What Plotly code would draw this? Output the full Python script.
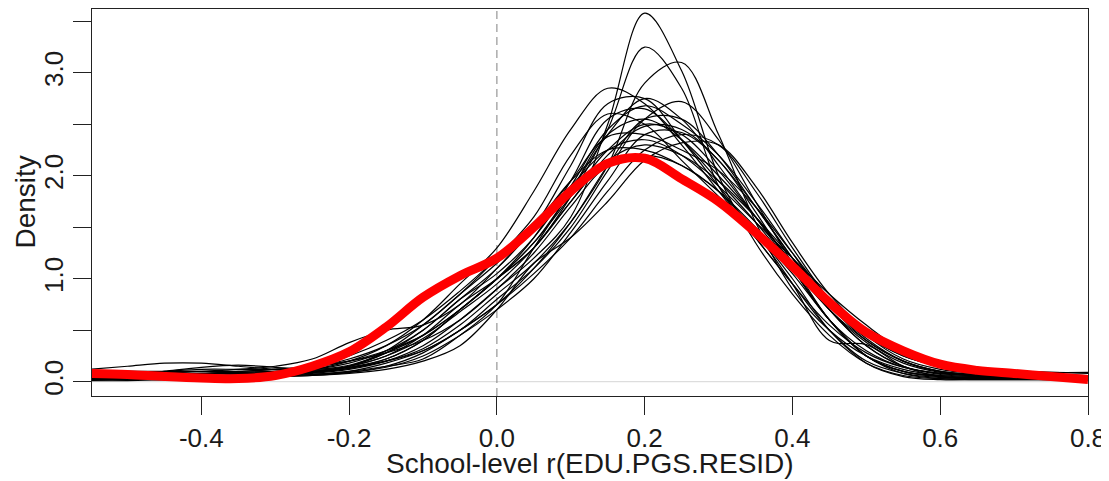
import plotly.graph_objects as go

# Shared x grid (school-level correlation values)
x_grid = [-0.55, -0.5, -0.45, -0.4, -0.35, -0.3, -0.25, -0.2, -0.15, -0.1, -0.05, 0.0,
          0.05, 0.1, 0.15, 0.2, 0.25, 0.3, 0.35, 0.4, 0.45, 0.5, 0.55, 0.6, 0.65, 0.7, 0.75, 0.8]

# Individual density curves (black)
d01 = [0.02,0.02,0.03,0.04,0.05,0.06,0.08,0.12,0.2,0.35,0.6,0.9,1.2,1.6,2.5,3.58,3.02,2.0,1.35,0.85,0.45,0.18,0.06,0.03,0.03,0.03,0.03,0.03]
d02 = [0.03,0.03,0.04,0.05,0.06,0.08,0.1,0.15,0.25,0.45,0.75,1.0,1.3,1.8,2.45,3.25,2.85,1.9,1.4,0.95,0.5,0.2,0.08,0.04,0.03,0.03,0.03,0.02]
d03 = [0.02,0.02,0.02,0.03,0.04,0.05,0.06,0.09,0.15,0.28,0.5,0.75,1.1,1.55,2.1,2.9,3.1,2.4,1.55,0.9,0.5,0.25,0.12,0.06,0.04,0.03,0.02,0.02]
d04 = [0.1,0.1,0.09,0.08,0.08,0.09,0.12,0.2,0.35,0.6,0.95,1.3,1.85,2.45,2.85,2.7,2.3,1.85,1.4,0.95,0.55,0.28,0.14,0.08,0.06,0.05,0.05,0.04]
d05 = [0.05,0.05,0.06,0.06,0.07,0.08,0.1,0.15,0.28,0.5,0.8,1.1,1.5,2.1,2.7,2.75,2.35,1.9,1.45,1.05,0.6,0.25,0.08,0.03,0.02,0.02,0.02,0.02]
d06 = [0.04,0.05,0.05,0.06,0.06,0.07,0.09,0.14,0.22,0.4,0.7,1.0,1.35,1.85,2.4,2.75,2.55,2.1,1.6,1.1,0.6,0.25,0.1,0.06,0.05,0.05,0.05,0.05]
d07 = [0.06,0.06,0.07,0.08,0.09,0.1,0.12,0.18,0.3,0.5,0.8,1.05,1.4,1.9,2.45,2.68,2.5,2.2,1.75,1.25,0.75,0.4,0.2,0.1,0.07,0.06,0.06,0.05]
d08 = [0.03,0.04,0.05,0.07,0.09,0.1,0.11,0.14,0.2,0.32,0.55,0.85,1.15,1.55,2.1,2.55,2.55,2.2,1.7,1.2,0.75,0.42,0.2,0.1,0.06,0.05,0.05,0.05]
d09 = [0.08,0.08,0.1,0.12,0.12,0.12,0.14,0.2,0.3,0.45,0.7,1.0,1.3,1.75,2.2,2.48,2.45,2.15,1.7,1.2,0.7,0.35,0.15,0.08,0.06,0.05,0.04,0.04]
d10 = [0.02,0.03,0.04,0.05,0.07,0.1,0.14,0.22,0.35,0.55,0.85,1.15,1.5,1.95,2.38,2.4,2.25,2.05,1.7,1.25,0.8,0.45,0.25,0.15,0.1,0.08,0.07,0.06]
d11 = [0.05,0.05,0.05,0.06,0.06,0.07,0.09,0.13,0.2,0.3,0.5,0.75,1.05,1.4,1.85,2.25,2.4,2.3,1.85,1.3,0.8,0.45,0.25,0.15,0.1,0.08,0.07,0.06]
d12 = [0.01,0.01,0.02,0.03,0.04,0.05,0.06,0.08,0.12,0.2,0.35,0.7,1.15,1.4,1.75,2.15,2.32,2.3,1.9,1.35,0.85,0.5,0.3,0.18,0.12,0.1,0.09,0.08]
d13 = [0.12,0.15,0.18,0.18,0.15,0.12,0.12,0.15,0.25,0.42,0.68,0.95,1.3,1.75,2.15,2.3,2.2,1.95,1.6,1.2,0.8,0.45,0.22,0.12,0.08,0.06,0.06,0.05]
d14 = [0.05,0.06,0.08,0.1,0.12,0.15,0.22,0.38,0.5,0.55,0.75,1.1,1.5,1.95,2.25,2.25,2.1,1.85,1.5,1.1,0.7,0.4,0.2,0.1,0.07,0.06,0.05,0.05]
d15 = [0.06,0.06,0.07,0.08,0.1,0.12,0.15,0.2,0.28,0.4,0.6,0.9,1.25,1.7,2.1,2.2,2.1,1.85,1.45,0.95,0.4,0.36,0.15,0.05,0.03,0.03,0.03,0.03]
d16 = [0.02,0.02,0.03,0.03,0.04,0.06,0.09,0.15,0.3,0.55,0.85,1.2,1.6,2.2,2.6,2.5,2.15,1.8,1.45,1.0,0.5,0.18,0.05,0.02,0.02,0.02,0.02,0.02]
d17 = [0.04,0.04,0.04,0.04,0.05,0.06,0.07,0.1,0.15,0.22,0.45,0.75,1.3,1.85,2.4,2.55,2.35,2.0,1.6,1.15,0.7,0.35,0.15,0.07,0.05,0.04,0.04,0.04]
d18 = [0.03,0.03,0.03,0.04,0.05,0.06,0.07,0.09,0.14,0.25,0.45,0.7,1.0,1.45,1.95,2.4,2.42,2.15,1.65,1.1,0.6,0.3,0.14,0.08,0.06,0.05,0.05,0.04]
d19 = [0.1,0.1,0.1,0.1,0.1,0.12,0.15,0.25,0.4,0.6,0.88,1.2,1.55,1.9,2.25,2.35,2.2,1.9,1.55,1.2,0.85,0.55,0.3,0.17,0.12,0.1,0.09,0.09]
d20 = [0.03,0.03,0.04,0.05,0.06,0.07,0.09,0.13,0.22,0.4,0.7,1.0,1.4,1.95,2.55,2.65,2.35,1.95,1.55,1.1,0.6,0.25,0.1,0.05,0.04,0.04,0.04,0.04]
d21 = [0.04,0.06,0.1,0.14,0.16,0.14,0.12,0.16,0.28,0.45,0.7,1.0,1.35,1.8,2.25,2.5,2.4,2.05,1.6,1.15,0.7,0.38,0.18,0.09,0.06,0.05,0.05,0.04]
d22 = [0.02,0.03,0.03,0.04,0.05,0.05,0.07,0.1,0.18,0.3,0.5,0.8,1.1,1.5,2.05,2.55,2.72,2.35,1.75,1.15,0.6,0.25,0.1,0.05,0.04,0.03,0.03,0.03]

black_curves = [d01, d02, d03, d04, d05, d06, d07, d08, d09, d10, d11,
                d12, d13, d14, d15, d16, d17, d18, d19, d20, d21, d22]

# Pooled density (red)
pooled = [0.08,0.07,0.05,0.035,0.03,0.06,0.15,0.29,0.53,0.82,1.03,1.2,1.5,1.85,2.12,2.17,1.97,1.75,1.45,1.12,0.77,0.48,0.3,0.17,0.11,0.08,0.05,0.02]

x_tick_vals = [-0.4, -0.2, 0.0, 0.2, 0.4, 0.6, 0.8]
x_tick_text = ["-0.4", "-0.2", "0.0", "0.2", "0.4", "0.6", "0.8"]
y_tick_vals = [0.0, 0.5, 1.0, 1.5, 2.0, 2.5, 3.0, 3.5]
y_tick_text = ["0.0", "", "1.0", "", "2.0", "", "3.0", ""]

X_RANGE = [-0.548, 0.8]
Y_RANGE = [-0.139, 3.62]

fig = go.Figure()

# zero density reference line (light gray)
fig.add_trace(go.Scatter(x=X_RANGE, y=[0, 0], mode="lines",
                         line=dict(color="#d6d6d6", width=1), hoverinfo="skip", showlegend=False))
# dashed vertical at r = 0
fig.add_trace(go.Scatter(x=[0, 0], y=Y_RANGE, mode="lines",
                         line=dict(color="#808080", width=1, dash="8px,5px"), hoverinfo="skip", showlegend=False))

for c in black_curves:
    fig.add_trace(go.Scatter(x=x_grid, y=c, mode="lines",
                             line=dict(color="black", width=1.2, shape="spline", smoothing=1.0),
                             showlegend=False))

fig.add_trace(go.Scatter(x=x_grid, y=pooled, mode="lines",
                         line=dict(color="#ff0000", width=9, shape="spline", smoothing=1.0),
                         showlegend=False))

font_family = "Liberation Sans, Arial, sans-serif"

# The page body adds an 8px offset, so the figure is 8px smaller than the window.
fig.update_layout(
    width=1101, height=473,
    margin=dict(l=84, r=21, t=1, b=85, autoexpand=False),
    paper_bgcolor="white", plot_bgcolor="white",
    font=dict(family=font_family, color="#1a1a1a", size=26),
    xaxis=dict(range=X_RANGE, tickvals=x_tick_vals, ticktext=x_tick_text,
               showgrid=False, zeroline=False, showline=True, mirror=True,
               linecolor="#222222", linewidth=1.2, ticks="outside", ticklen=18,
               tickwidth=1.2, tickcolor="#222222", tickfont=dict(size=26),
               ticklabelstandoff=1, automargin=False),
    yaxis=dict(range=Y_RANGE, tickvals=y_tick_vals, ticktext=y_tick_text,
               showgrid=False, zeroline=False, showline=True, mirror=True,
               linecolor="#222222", linewidth=1.2, ticks="outside", ticklen=18,
               tickwidth=1.2, tickcolor="#222222", tickfont=dict(size=26),
               tickangle=-90, ticklabelstandoff=0, automargin=False),
    annotations=[
        dict(text="School-level r(EDU.PGS.RESID)", xref="paper", yref="paper",
             x=0.5, y=0, xanchor="center", yanchor="middle", yshift=-67,
             showarrow=False, font=dict(size=28)),
        dict(text="Density", xref="paper", yref="paper",
             x=0, y=0.5, xanchor="center", yanchor="middle", xshift=-67,
             textangle=-90, showarrow=False, font=dict(size=28)),
    ],
)

fig.write_html("out.html")
